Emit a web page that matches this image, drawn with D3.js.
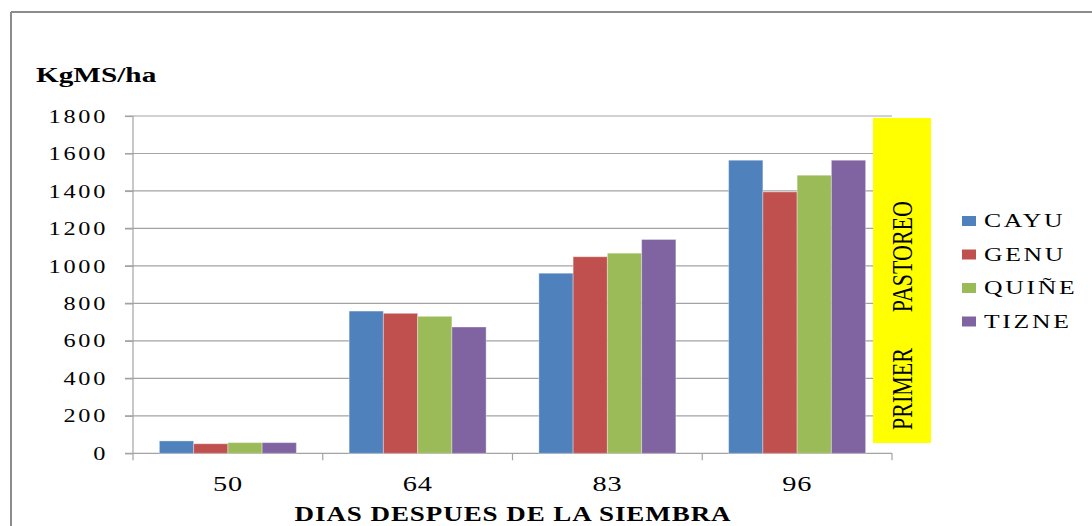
<!DOCTYPE html>
<html>
<head>
<meta charset="utf-8">
<script src="https://cdn.jsdelivr.net/npm/d3@7"></script>
<style>
  html, body { margin: 0; padding: 0; background: #fff; }
  svg { display: block; }
  text { font-family: "Liberation Serif", "Times New Roman", serif; fill: #000; }
</style>
</head>
<body>
<svg id="chart" width="1092" height="526"></svg>
<script>
// Days after sowing
const categories = ["50", "64", "83", "96"];
// Varieties
const seriesNames = ["CAYU", "GENU", "QUIÑE", "TIZNE"];
// Dry matter yield, kg DM/ha
const cayu  = [66, 759, 961, 1564];
const genu  = [51, 747, 1049, 1395];
const quine = [57, 731, 1068, 1484];
const tizne = [57, 674, 1141, 1564];
const yTicks = [0, 200, 400, 600, 800, 1000, 1200, 1400, 1600, 1800];
const colors = ["#4F81BD", "#C0504D", "#9BBB59", "#8064A2"];

const seriesValues = [cayu, genu, quine, tizne];
const rows = categories.map((c, i) => ({
  cat: c,
  vals: seriesNames.map((s, j) => ({ name: s, value: seriesValues[j][i], color: colors[j] }))
}));

const svg = d3.select("#chart");
const SX = 1.35; // horizontal text stretch

const plotL = 133, plotR = 892, plotT = 116, plotB = 453.3;

// Outer chart frame (top and left edges)
svg.append("line").attr("x1", 11).attr("x2", 1092).attr("y1", 12).attr("y2", 12)
  .attr("stroke", "#8c8c8c").attr("stroke-width", 2);
svg.append("line").attr("x1", 11).attr("x2", 11).attr("y1", 12).attr("y2", 526)
  .attr("stroke", "#8c8c8c").attr("stroke-width", 2);

const x = d3.scaleBand().domain(categories).range([plotL, plotR]).paddingInner(0).paddingOuter(0);
const x1 = d3.scaleBand().domain(seriesNames).range([0, x.bandwidth()]).paddingInner(0).paddingOuter(0.77);
const y = d3.scaleLinear().domain([0, 1800]).range([plotB, plotT]);

// Gridlines
svg.append("g").selectAll("line").data(yTicks.filter(t => t > 0)).join("line")
  .attr("x1", plotL - 8).attr("x2", plotR)
  .attr("y1", d => y(d)).attr("y2", d => y(d))
  .attr("stroke", "#a3a3a3").attr("stroke-width", 1.2);

// Y axis
const yAxis = svg.append("g").attr("transform", `translate(${plotL},0)`)
  .call(d3.axisLeft(y).tickValues(yTicks).tickSize(8).tickSizeOuter(0).tickFormat(d3.format("d")));
yAxis.select(".domain").attr("stroke", "#a3a3a3").attr("stroke-width", 1.2)
  .attr("d", `M0,${plotB + 7}V${plotT}`);
yAxis.selectAll(".tick line").attr("stroke", "#a3a3a3").attr("stroke-width", 1.2);
yAxis.selectAll(".tick text")
  .attr("x", -25 / SX).attr("dy", "0.34em")
  .attr("transform", `scale(${SX},1)`)
  .style("font-size", "18px").style("letter-spacing", "2px")
  .attr("fill", "#000");

// X axis
const xAxis = svg.append("g").attr("transform", `translate(0,${plotB})`)
  .call(d3.axisBottom(x).tickSize(0).tickSizeOuter(0));
xAxis.select(".domain").attr("stroke", "#a3a3a3").attr("stroke-width", 1.2)
  .attr("d", `M${plotL - 8},0H${plotR}`);
xAxis.selectAll(".tick text")
  .attr("y", 0).attr("x", 0).attr("dy", "1.8em")
  .attr("transform", `scale(${SX},1)`)
  .style("font-size", "21px").style("letter-spacing", "0.5px")
  .attr("fill", "#000");

// Category boundary ticks
const bounds = categories.map(c => x(c)).concat([plotR]);
svg.append("g").selectAll("line").data(bounds.slice(1)).join("line")
  .attr("x1", d => d).attr("x2", d => d)
  .attr("y1", plotB).attr("y2", plotB + 7)
  .attr("stroke", "#a3a3a3").attr("stroke-width", 1.2);

// Bars
svg.append("g").selectAll("g").data(rows).join("g")
  .attr("transform", d => `translate(${x(d.cat)},0)`)
  .selectAll("rect").data(d => d.vals).join("rect")
  .attr("x", d => x1(d.name))
  .attr("width", x1.bandwidth())
  .attr("y", d => y(d.value))
  .attr("height", d => y(0) - y(d.value))
  .attr("fill", d => d.color)
  .attr("stroke", "rgba(255,255,255,0.35)")
  .attr("stroke-width", 1);

// Y axis title
svg.append("g").attr("transform", `translate(36,82) scale(1.33,1)`)
  .append("text").text("KgMS/ha")
  .style("font-size", "22px").style("font-weight", "bold");

// X axis title
svg.append("g").attr("transform", `translate(${(293 + 733) / 2},521) scale(${SX},1)`)
  .append("text").text("DIAS DESPUES DE LA SIEMBRA")
  .attr("text-anchor", "middle")
  .style("font-size", "20px").style("font-weight", "bold").style("letter-spacing", "0.7px");

// Grazing marker
svg.append("rect").attr("x", 873).attr("y", 118).attr("width", 58).attr("height", 325)
  .attr("fill", "#FFFF00");
svg.append("g").attr("transform", `translate(912,256.7) rotate(-90) scale(1,${SX})`)
  .append("text").text("PASTOREO").attr("text-anchor", "middle").style("font-size", "22px");
svg.append("g").attr("transform", `translate(912,389) rotate(-90) scale(1,${SX})`)
  .append("text").text("PRIMER").attr("text-anchor", "middle").style("font-size", "22px");

// Legend
const legend = svg.append("g").selectAll("g").data(seriesNames).join("g")
  .attr("transform", (d, i) => `translate(962,${221 + i * 33.5})`);
legend.append("rect").attr("x", 0).attr("y", -5).attr("width", 14).attr("height", 10)
  .attr("fill", (d, i) => colors[i]);
legend.append("g").attr("transform", `translate(22,0) scale(${SX},1)`)
  .append("text").text(d => d).attr("dy", "0.34em")
  .style("font-size", "19px").style("letter-spacing", "2px");
</script>
</body>
</html>
